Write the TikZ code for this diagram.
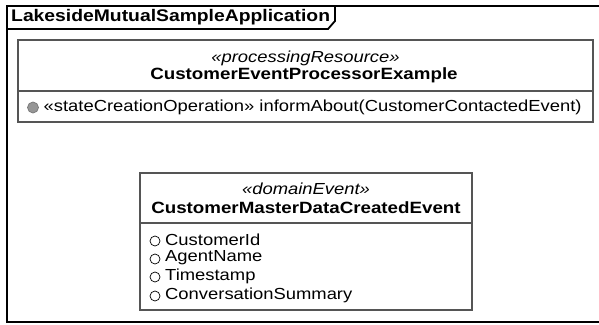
\documentclass[tikz,border=0pt]{standalone}
\usepackage{fontspec}
\setmainfont[FakeStretch=1.15]{Liberation Sans}
\usetikzlibrary{calc}
\definecolor{boxline}{RGB}{85,85,85}
\definecolor{dotfill}{RGB}{150,150,150}
\begin{document}
\begin{tikzpicture}[x=1pt,y=-1pt,
  txt/.style={inner sep=0pt, font=\fontsize{16}{18}\selectfont},
  classbox/.style={draw=boxline, line width=1.8pt, inner sep=0pt},
  framebox/.style={draw=black, line width=1.8pt},
  opdot/.style={circle, draw=boxline!80, fill=dotfill, line width=0.7pt, minimum size=11pt, inner sep=0pt},
  attrdot/.style={circle, draw=black, line width=0.7pt, minimum size=10pt, inner sep=0pt}]
\useasboundingbox (0,0) rectangle (599,324);
\fill[white] (0,0) rectangle (599,324);

% package frame with its name tab
\draw[framebox] (7,6) rectangle (601,322);
\draw[framebox] (7,29) -- (328,29) -- (335,21) -- (335,6);
\node[txt, anchor=west, font=\fontsize{16.8}{19}\selectfont\bfseries] (pkgname) at (11,17.5) {LakesideMutualSampleApplication};

% processing resource class
\node[classbox, minimum width=575pt, minimum height=82pt] (proc) at (305.5,81) {};
\draw[boxline, line width=1.8pt] ($(proc.north west)+(0,52)$) coordinate (pdl) -- ($(proc.north east)+(0,52)$) coordinate (pdr);
\node[txt, font=\fontsize{16}{18}\selectfont\itshape] (procst) at (305.5,58) {«processingResource»};
\node[txt, font=\fontsize{16.3}{18}\selectfont\bfseries] (procname) at (304,75) {CustomerEventProcessorExample};
\node[opdot] (opd) at (33,107.5) {};
\node[txt, anchor=west] (op) at (43.5,107) {«stateCreationOperation» informAbout(CustomerContactedEvent)};

% domain event class
\node[classbox, minimum width=332pt, minimum height=137pt] (evt) at (306,241.5) {};
\draw[boxline, line width=1.8pt] ($(evt.north west)+(0,51)$) coordinate (edl) -- ($(evt.north east)+(0,51)$) coordinate (edr);
\node[txt, font=\fontsize{16}{18}\selectfont\itshape] (evtst) at (306,189) {«domainEvent»};
\node[txt, font=\fontsize{16.3}{18}\selectfont\bfseries] (evtname) at (306,208) {CustomerMasterDataCreatedEvent};
\foreach \y/\t [count=\i] in {240/CustomerId, 258/AgentName, 276/Timestamp, 295/ConversationSummary} {
  \node[attrdot] (ad\i) at (155,\y+1) {};
  \node[txt, anchor=west] (at\i) at (165,\y) {\t};
}
\end{tikzpicture}
\end{document}
